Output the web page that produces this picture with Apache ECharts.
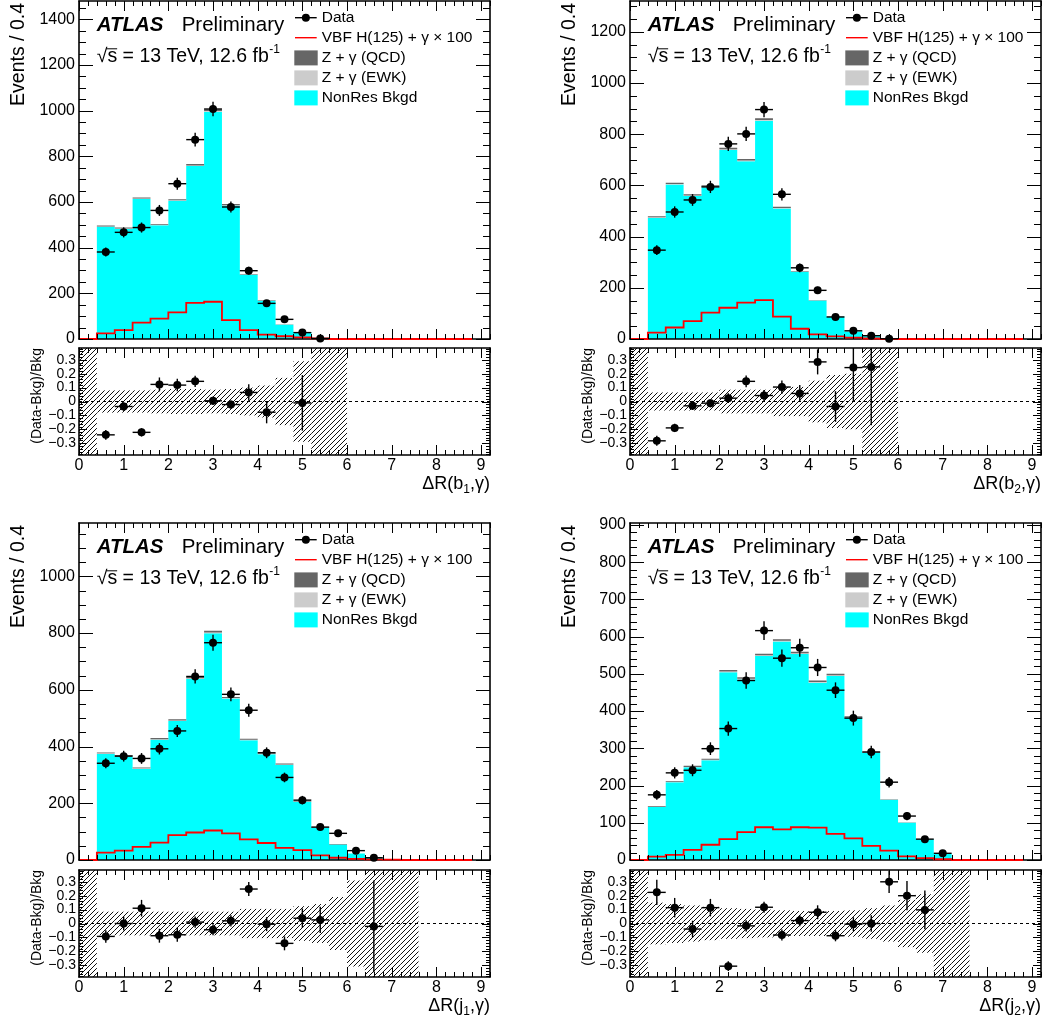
<!DOCTYPE html>
<html>
<head>
<meta charset="utf-8">
<script src="https://cdn.jsdelivr.net/npm/echarts@6/dist/echarts.min.js"></script>
<style>
  html, body { margin: 0; padding: 0; background: #fff; }
  #chart { width: 1048px; height: 1025px; }
</style>
</head>
<body>
<div id="chart"></div>
<script>
const FONT = '"Liberation Sans", Arial, Helvetica, sans-serif';
const BIN = 0.4;            // ΔR bin width
const X_MAX = 9.2;
const RATIO_RANGE = 0.385;
const RATIO_LABELS = [-0.3, -0.2, -0.1, 0, 0.1, 0.2, 0.3];

// ---------- ΔR(b1,γ) : bins start at ΔR = 0 ----------
const b1NonRes = [0, 491, 482, 613, 498, 605, 757, 995, 584, 281, 168, 62, 31, 5];
const b1EWK    = [0, 2, 2, 2, 2, 2, 3, 3, 2, 1, 1, 0, 0, 0];
const b1QCD    = [0, 4, 4, 5, 4, 5, 6, 7, 5, 3, 2, 1, 0, 0];
const b1VBF    = [0, 25, 39, 72, 89, 117, 158, 163, 83, 39, 19, 12, 7, 3, 0, 0, 0, 0, 0, 0, 0, 0];
// data points, bin centres from ΔR = 0.6
const b1Data     = [381, 467, 488, 563, 680, 873, 1007, 578, 299, 156, 86, 28, 2];
const b1DataErr  = [20, 22, 22, 24, 26, 30, 32, 24, 17, 12, 9, 5, 1.5];
const b1Ratio    = [-0.24, -0.036, -0.222, 0.123, 0.118, 0.145, 0.005, -0.022, 0.065, -0.077, null, -0.01, null];
const b1RatioErr = [0.035, 0.03, 0.03, 0.05, 0.045, 0.04, 0.03, 0.03, 0.06, 0.08, null, 0.2, null];
const b1Band     = [1, 0.08, 0.08, 0.08, 0.085, 0.09, 0.09, 0.085, 0.09, 0.1, 0.115, 0.17, 0.29, 1, 1];

// ---------- ΔR(b2,γ) ----------
const b2NonRes = [0, 473, 603, 558, 593, 738, 694, 852, 510, 263, 150, 87, 29, 12];
const b2EWK    = [0, 2, 2, 2, 2, 3, 3, 3, 2, 1, 1, 0, 0, 0];
const b2QCD    = [0, 4, 5, 5, 5, 6, 6, 7, 4, 2, 1, 1, 0, 0];
const b2VBF    = [0, 25, 45, 70, 103, 122, 142, 152, 87, 40, 18, 10, 5, 2, 0, 0, 0, 0, 0, 0, 0, 0];
const b2Data     = [347, 496, 543, 594, 762, 801, 896, 565, 278, 190, 86, 32, 13, 1];
const b2DataErr  = [19, 22, 23, 24, 28, 28, 30, 24, 17, 14, 9, 6, 4, 1];
const b2Ratio    = [-0.283, -0.19, -0.031, -0.012, 0.024, 0.145, 0.043, 0.104, 0.058, 0.285, -0.036, 0.244, 0.249, null];
const b2RatioErr = [0.036, 0.03, 0.03, 0.03, 0.035, 0.042, 0.04, 0.048, 0.06, 0.09, 0.11, 0.24, 0.42, null];
const b2Band     = [1, 0.065, 0.065, 0.065, 0.065, 0.085, 0.085, 0.085, 0.105, 0.105, 0.15, 0.19, 0.2, 1, 1];

// ---------- ΔR(j1,γ) ----------
const j1NonRes = [0, 374, 365, 321, 424, 490, 638, 799, 569, 422, 373, 335, 205, 114, 55, 23, 10, 3];
const j1EWK    = [0, 2, 2, 2, 2, 2, 3, 3, 2, 2, 2, 2, 1, 1, 0, 0, 0, 0];
const j1QCD    = [0, 3, 3, 3, 4, 4, 5, 6, 4, 3, 3, 3, 2, 1, 1, 0, 0, 0];
const j1VBF    = [0, 26, 33, 46, 61, 88, 97, 104, 94, 73, 60, 43, 35, 16, 8, 4, 2, 1, 0, 0, 0, 0];
const j1Data     = [341, 366, 358, 392, 455, 647, 766, 584, 528, 378, 291, 211, 116, 94, 33, 8];
const j1DataErr  = [18, 19, 19, 20, 21, 25, 28, 24, 23, 19, 17, 15, 11, 10, 6, 3];
const j1Ratio    = [-0.093, 0.0, 0.11, -0.088, -0.081, 0.01, -0.045, 0.019, 0.248, -0.005, -0.143, 0.038, 0.026, null, null, -0.021];
const j1RatioErr = [0.045, 0.05, 0.06, 0.05, 0.05, 0.04, 0.04, 0.04, 0.05, 0.05, 0.05, 0.07, 0.095, null, null, 0.33];
const j1Band     = [1, 0.085, 0.085, 0.085, 0.085, 0.085, 0.085, 0.085, 0.085, 0.105, 0.105, 0.105, 0.125, 0.14, 0.19, 0.31, 1, 1, 1];

// ---------- ΔR(j2,γ) ----------
const j2NonRes = [0, 142, 209, 249, 268, 504, 485, 548, 587, 553, 476, 494, 382, 288, 162, 100, 56, 17, 3];
const j2EWK    = [0, 1, 1, 1, 1, 2, 2, 2, 2, 2, 2, 2, 1, 1, 1, 0, 0, 0, 0];
const j2QCD    = [0, 2, 2, 3, 3, 4, 4, 4, 4, 4, 4, 4, 3, 2, 1, 1, 0, 0, 0];
const j2VBF    = [0, 9, 14, 27, 41, 56, 75, 88, 82, 88, 87, 70, 58, 38, 25, 10, 5, 2, 0, 0, 0, 0];
const j2Data     = [175, 234, 241, 299, 353, 482, 616, 542, 570, 517, 456, 381, 290, 209, 118, 56, 18];
const j2DataErr  = [13, 15, 16, 17, 19, 22, 25, 23, 24, 23, 21, 20, 17, 14, 11, 7, 4];
const j2Ratio    = [0.224, 0.114, -0.04, 0.114, -0.307, -0.017, 0.117, -0.083, 0.021, 0.081, -0.088, -0.005, 0.0, 0.3, 0.2, 0.098, null];
const j2RatioErr = [0.09, 0.07, 0.06, 0.063, 0.035, 0.04, 0.04, 0.04, 0.04, 0.05, 0.04, 0.05, 0.06, 0.08, 0.105, 0.14, null];
const j2Band     = [1, 0.15, 0.14, 0.13, 0.12, 0.11, 0.105, 0.1, 0.095, 0.09, 0.09, 0.09, 0.095, 0.11, 0.13, 0.17, 0.21, 1, 1];

const PANELS = [
  { obj: 'b', idx: '1', nonres: b1NonRes, ewk: b1EWK, qcd: b1QCD, vbf: b1VBF, data: b1Data, dataErr: b1DataErr,
    ratio: b1Ratio, ratioErr: b1RatioErr, band: b1Band, yMax: 1480, yMajor: 200, yMinor: 50 },
  { obj: 'b', idx: '2', nonres: b2NonRes, ewk: b2EWK, qcd: b2QCD, vbf: b2VBF, data: b2Data, dataErr: b2DataErr,
    ratio: b2Ratio, ratioErr: b2RatioErr, band: b2Band, yMax: 1320, yMajor: 200, yMinor: 50 },
  { obj: 'j', idx: '1', nonres: j1NonRes, ewk: j1EWK, qcd: j1QCD, vbf: j1VBF, data: j1Data, dataErr: j1DataErr,
    ratio: j1Ratio, ratioErr: j1RatioErr, band: j1Band, yMax: 1188, yMajor: 200, yMinor: 50 },
  { obj: 'j', idx: '2', nonres: j2NonRes, ewk: j2EWK, qcd: j2QCD, vbf: j2VBF, data: j2Data, dataErr: j2DataErr,
    ratio: j2Ratio, ratioErr: j2RatioErr, band: j2Band, yMax: 905, yMajor: 100, yMinor: 20 }
];

// pad geometry (pixels)
const PANEL_W = 411;
const LAYOUT = [
  { left: 79,  top: 1,   bottom: 339, ratioTop: 348, ratioBottom: 455 },
  { left: 630, top: 1,   bottom: 339, ratioTop: 348, ratioBottom: 455 },
  { left: 79,  top: 523, bottom: 860, ratioTop: 870, ratioBottom: 977 },
  { left: 630, top: 523, bottom: 860, ratioTop: 870, ratioBottom: 977 }
];

const COLORS = { nonres: '#00ffff', ewk: '#cccccc', qcd: '#666666', vbf: '#ff0000' };

const LEGEND = [
  { label: 'Data', kind: 'data' },
  { label: 'VBF H(125) + \u03b3 \u00d7 100', kind: 'line', color: COLORS.vbf },
  { label: 'Z + \u03b3 (QCD)', kind: 'box', color: COLORS.qcd },
  { label: 'Z + \u03b3 (EWK)', kind: 'box', color: COLORS.ewk },
  { label: 'NonRes Bkgd', kind: 'box', color: COLORS.nonres }
];

// ---------- helpers ----------
const measureCtx = document.createElement('canvas').getContext('2d');
function textWidth(str, font) { measureCtx.font = font; return measureCtx.measureText(str).width; }
function font(size, weight, style) { return (style || 'normal') + ' ' + (weight || 'normal') + ' ' + size + 'px ' + FONT; }

function hatchPattern() {
  const s = 5;
  const c = document.createElement('canvas');
  c.width = s; c.height = s;
  const ctx = c.getContext('2d');
  ctx.strokeStyle = '#111';
  ctx.lineWidth = 1;
  ctx.beginPath();
  ctx.moveTo(0, s); ctx.lineTo(s, 0);
  ctx.moveTo(-1, 1); ctx.lineTo(1, -1);
  ctx.moveTo(s - 1, s + 1); ctx.lineTo(s + 1, s - 1);
  ctx.stroke();
  return c;
}
const HATCH = hatchPattern();

// evenly spaced tick positions between a and b
function range(a, b, step) {
  const out = [];
  const n = Math.round((b - a) / step);
  for (let i = 0; i <= n; i++) out.push(Math.round((a + i * step) * 1e6) / 1e6);
  return out;
}

function valueAxis(grid, pos, min, max, label, extra) {
  return Object.assign({
    type: 'value', gridIndex: grid, position: pos, min: min, max: max, z: 5, silent: true,
    splitLine: { show: false }, splitArea: { show: false },
    axisPointer: { show: false },
    axisLine: { show: true, onZero: false, lineStyle: { color: '#000', width: 1.6 } },
    axisTick: { show: false },
    axisLabel: label ? Object.assign({ show: true, color: '#000', fontFamily: FONT }, label) : { show: false }
  }, extra || {});
}

const grids = [], xAxes = [], yAxes = [], series = [], graphics = [];

// a pad: framed grid with bottom/top x axes and left/right y axes
function addPad(rect, yMin, yMax, xLabel, yLabel, yExtra) {
  const g = grids.length;
  grids.push({ left: rect.left, top: rect.top, width: rect.width, height: rect.height,
               containLabel: false, outerBoundsMode: 'none', show: false });
  const xi = xAxes.length;
  xAxes.push(valueAxis(g, 'bottom', 0, X_MAX, xLabel, { interval: 1 }));
  xAxes.push(valueAxis(g, 'top', 0, X_MAX, null, { interval: 1 }));
  const yi = yAxes.length;
  yAxes.push(valueAxis(g, 'left', yMin, yMax, yLabel, yExtra));
  yAxes.push(valueAxis(g, 'right', yMin, yMax, null, yExtra));
  return { xi: xi, yi: yi, yMin: yMin, yMax: yMax };
}

// inward tick marks on all four sides of a pad
function tickSeries(ax, spec) {
  return {
    type: 'custom', coordinateSystem: 'cartesian2d', xAxisIndex: ax.xi, yAxisIndex: ax.yi,
    clip: false, silent: true, z: 8, data: [[0, 0]],
    renderItem: function (params, api) {
      const tl = api.coord([0, ax.yMax]), br = api.coord([X_MAX, ax.yMin]);
      const left = tl[0], top = tl[1], right = br[0], bottom = br[1];
      const kids = [];
      function seg(x1, y1, x2, y2) {
        kids.push({ type: 'line', shape: { x1: x1, y1: y1, x2: x2, y2: y2 }, style: { stroke: '#000', lineWidth: 1 } });
      }
      spec.x.forEach(function (t) {
        t.values.forEach(function (v) {
          const px = Math.round(api.coord([v, ax.yMin])[0]) + 0.5;
          seg(px, bottom, px, bottom - t.len);
          seg(px, top, px, top + t.len);
        });
      });
      spec.y.forEach(function (t) {
        t.values.forEach(function (v) {
          const py = Math.round(api.coord([0, v])[1]) + 0.5;
          seg(left, py, left + t.len, py);
          seg(right, py, right - t.len, py);
        });
      });
      return { type: 'group', children: kids };
    }
  };
}

function cumulative(a, b) { return a.map(function (v, i) { return v + (b[i] || 0); }); }

function layerSeries(ax, lower, upper, color) {
  return {
    type: 'custom', coordinateSystem: 'cartesian2d', xAxisIndex: ax.xi, yAxisIndex: ax.yi,
    clip: true, silent: true, z: 2, data: [[0, 0]],
    renderItem: function (params, api) {
      const pts = [];
      upper.forEach(function (v, i) { pts.push(api.coord([i * BIN, v]), api.coord([(i + 1) * BIN, v])); });
      for (let i = lower.length - 1; i >= 0; i--) {
        pts.push(api.coord([(i + 1) * BIN, lower[i]]), api.coord([i * BIN, lower[i]]));
      }
      return { type: 'polygon', shape: { points: pts }, style: { fill: color, stroke: null } };
    }
  };
}

function stepLineSeries(ax, values, color) {
  return {
    type: 'custom', coordinateSystem: 'cartesian2d', xAxisIndex: ax.xi, yAxisIndex: ax.yi,
    clip: false, silent: true, z: 6, data: [[0, 0]],
    renderItem: function (params, api) {
      const pts = [];
      values.forEach(function (v, i) { pts.push(api.coord([i * BIN, v]), api.coord([(i + 1) * BIN, v])); });
      return { type: 'polyline', shape: { points: pts }, style: { stroke: color, lineWidth: 1.8, fill: null } };
    }
  };
}

function pointSeries(ax, values, errors, clip) {
  const rows = [];
  values.forEach(function (v, i) {
    if (v !== null && v !== undefined) rows.push([1.5 * BIN + i * BIN, v, errors[i]]);
  });
  return {
    type: 'custom', coordinateSystem: 'cartesian2d', xAxisIndex: ax.xi, yAxisIndex: ax.yi,
    clip: clip, silent: true, z: 7, data: rows,
    renderItem: function (params, api) {
      const x = api.value(0), y = api.value(1), e = api.value(2);
      const c = api.coord([x, y]);
      const l = api.coord([x - BIN / 2, y]), r = api.coord([x + BIN / 2, y]);
      const t = api.coord([x, y + e]), b = api.coord([x, y - e]);
      return { type: 'group', children: [
        { type: 'line', shape: { x1: l[0], y1: l[1], x2: r[0], y2: r[1] }, style: { stroke: '#000', lineWidth: 1.4 } },
        { type: 'line', shape: { x1: t[0], y1: t[1], x2: b[0], y2: b[1] }, style: { stroke: '#000', lineWidth: 1.4 } },
        { type: 'circle', shape: { cx: c[0], cy: c[1], r: 4 }, style: { fill: '#000', stroke: null } }
      ] };
    }
  };
}

function bandSeries(ax, halfWidths) {
  const rows = halfWidths.map(function (h, i) { return [i * BIN, (i + 1) * BIN, h]; });
  return {
    type: 'custom', coordinateSystem: 'cartesian2d', xAxisIndex: ax.xi, yAxisIndex: ax.yi,
    clip: true, silent: true, z: 1, data: rows,
    renderItem: function (params, api) {
      const lo = api.value(0), hi = api.value(1), h = api.value(2);
      const p1 = api.coord([lo, h]), p2 = api.coord([hi, -h]);
      return { type: 'rect', shape: { x: p1[0], y: p1[1], width: p2[0] - p1[0], height: p2[1] - p1[1] },
               style: { fill: { image: HATCH, repeat: 'repeat' }, stroke: null } };
    }
  };
}

function text(x, y, str, f, align, extra) {
  return Object.assign({
    type: 'text', x: x, y: y, silent: true, z: 20,
    style: { text: str, font: f, fill: '#000', align: align || 'left', textAlign: align || 'left',
             verticalAlign: 'middle', textVerticalAlign: 'middle' }
  }, extra || {});
}

const X_MAJOR_TICKS = range(0, 9, 1);
const X_MINOR_TICKS = range(0, 9.2, 0.2);
const RATIO_MINOR_TICKS = range(-0.38, 0.38, 0.02);

// ---------- build the four pads ----------
PANELS.forEach(function (p, k) {
  const lay = LAYOUT[k];
  const L = lay.left, T = lay.top, R = L + PANEL_W;

  // upper pad: stacked backgrounds, signal, data
  const mainAx = addPad(
    { left: L, top: T, width: PANEL_W, height: lay.bottom - T },
    0, p.yMax, null,
    { fontSize: 16, margin: 4, formatter: function (v) { return v % p.yMajor === 0 ? String(v) : ''; } },
    { interval: p.yMajor }
  );
  const ewkTop = cumulative(p.nonres, p.ewk);
  const qcdTop = cumulative(ewkTop, p.qcd);
  const zeros = p.nonres.map(function () { return 0; });
  series.push(layerSeries(mainAx, zeros, p.nonres, COLORS.nonres));
  series.push(layerSeries(mainAx, p.nonres, ewkTop, COLORS.ewk));
  series.push(layerSeries(mainAx, ewkTop, qcdTop, COLORS.qcd));
  series.push(stepLineSeries(mainAx, p.vbf, COLORS.vbf));
  series.push(pointSeries(mainAx, p.data, p.dataErr, false));
  series.push(tickSeries(mainAx, {
    x: [{ values: X_MINOR_TICKS, len: 5 }, { values: X_MAJOR_TICKS, len: 10 }],
    y: [{ values: range(0, Math.floor(p.yMax / p.yMinor) * p.yMinor, p.yMinor), len: 7 },
        { values: range(0, Math.floor(p.yMax / p.yMajor) * p.yMajor, p.yMajor), len: 14 }]
  }));

  // lower pad: (Data-Bkg)/Bkg
  const ratioAx = addPad(
    { left: L, top: lay.ratioTop, width: PANEL_W, height: lay.ratioBottom - lay.ratioTop },
    -RATIO_RANGE, RATIO_RANGE,
    { fontSize: 16, margin: 3, formatter: function (v) {
        return Math.abs(v - Math.round(v)) < 1e-6 && v <= 9 ? String(Math.round(v)) : ''; } },
    { fontSize: 14, margin: 3, customValues: RATIO_LABELS,
      formatter: function (v) { const r = Math.round(v * 10) / 10; return r === 0 ? '0' : (r < 0 ? '\u2212' : '') + Math.abs(r).toFixed(1); } },
    null
  );
  series.push(bandSeries(ratioAx, p.band));
  series.push({
    type: 'line', xAxisIndex: ratioAx.xi, yAxisIndex: ratioAx.yi, silent: true, z: 3, symbol: 'none',
    data: [[0, 0], [X_MAX, 0]], lineStyle: { color: '#000', width: 1.2, type: [3, 3] }
  });
  series.push(pointSeries(ratioAx, p.ratio, p.ratioErr, true));
  series.push(tickSeries(ratioAx, {
    x: [{ values: X_MINOR_TICKS, len: 5 }, { values: X_MAJOR_TICKS, len: 10 }],
    y: [{ values: RATIO_MINOR_TICKS, len: 4 }, { values: RATIO_LABELS, len: 8 }]
  }));

  // --- labels and legend ---
  graphics.push(text(L + 17.7, T + 24.7, 'ATLAS', font(20.5, 'bold', 'italic')));
  graphics.push(text(L + 102.7, T + 24.7, 'Preliminary', font(20.5)));
  const lumiFont = font(19.5);
  const lumiMain = '\u221as = 13 TeV, 12.6 fb';
  graphics.push(text(L + 17.7, T + 55.7, lumiMain, lumiFont));
  const lumiW = textWidth(lumiMain, lumiFont);
  graphics.push(text(L + 17.7 + lumiW + 0.5, T + 48.5, '-1', font(12)));
  const rootW = textWidth('\u221a', lumiFont), sW = textWidth('s', lumiFont);
  graphics.push({ type: 'line', silent: true, z: 20,
    shape: { x1: L + 17.7 + rootW - 1, y1: T + 47.8, x2: L + 17.7 + rootW + sW, y2: T + 47.8 },
    style: { stroke: '#000', lineWidth: 1 } });

  const legFont = font(15.5);
  LEGEND.forEach(function (item, r) {
    const cy = T + 16.7 + 20 * r;
    const sx0 = L + 216, sx1 = L + 237.7;
    if (item.kind === 'data') {
      graphics.push({ type: 'line', silent: true, z: 20, shape: { x1: sx0, y1: cy, x2: sx1, y2: cy }, style: { stroke: '#000', lineWidth: 1.4 } });
      graphics.push({ type: 'circle', silent: true, z: 20, shape: { cx: (sx0 + sx1) / 2, cy: cy, r: 4 }, style: { fill: '#000' } });
    } else if (item.kind === 'line') {
      graphics.push({ type: 'line', silent: true, z: 20, shape: { x1: sx0, y1: cy, x2: sx1, y2: cy }, style: { stroke: item.color, lineWidth: 1.4 } });
    } else {
      graphics.push({ type: 'rect', silent: true, z: 20, shape: { x: L + 215.3, y: cy - 7.3, width: 23.4, height: 15 }, style: { fill: item.color } });
    }
    graphics.push(text(L + 242.7, cy, item.label, legFont));
  });

  // axis titles
  graphics.push(text(L - 60, T + 2, 'Events / 0.4', font(19.5), 'right', { rotation: Math.PI / 2 }));
  graphics.push(text(L - 42, lay.ratioTop, '(Data-Bkg)/Bkg', font(14), 'right', { rotation: Math.PI / 2 }));
  const tf = font(18), sf = font(12);
  const part1 = '\u0394R(' + p.obj, part2 = ',\u03b3)';
  const w1 = textWidth(part1, tf), ws = textWidth(p.idx, sf), w2 = textWidth(part2, tf);
  const tx = R - (w1 + ws + w2), ty = lay.ratioBottom + 29;
  graphics.push(text(tx, ty, part1, tf));
  graphics.push(text(tx + w1, ty + 6, p.idx, sf));
  graphics.push(text(tx + w1 + ws, ty, part2, tf));
});

const chart = echarts.init(document.getElementById('chart'), null, { renderer: 'canvas', width: 1048, height: 1025 });
chart.setOption({
  animation: false,
  backgroundColor: '#fff',
  textStyle: { fontFamily: FONT },
  grid: grids,
  xAxis: xAxes,
  yAxis: yAxes,
  series: series,
  graphic: { elements: graphics }
});
</script>
</body>
</html>
